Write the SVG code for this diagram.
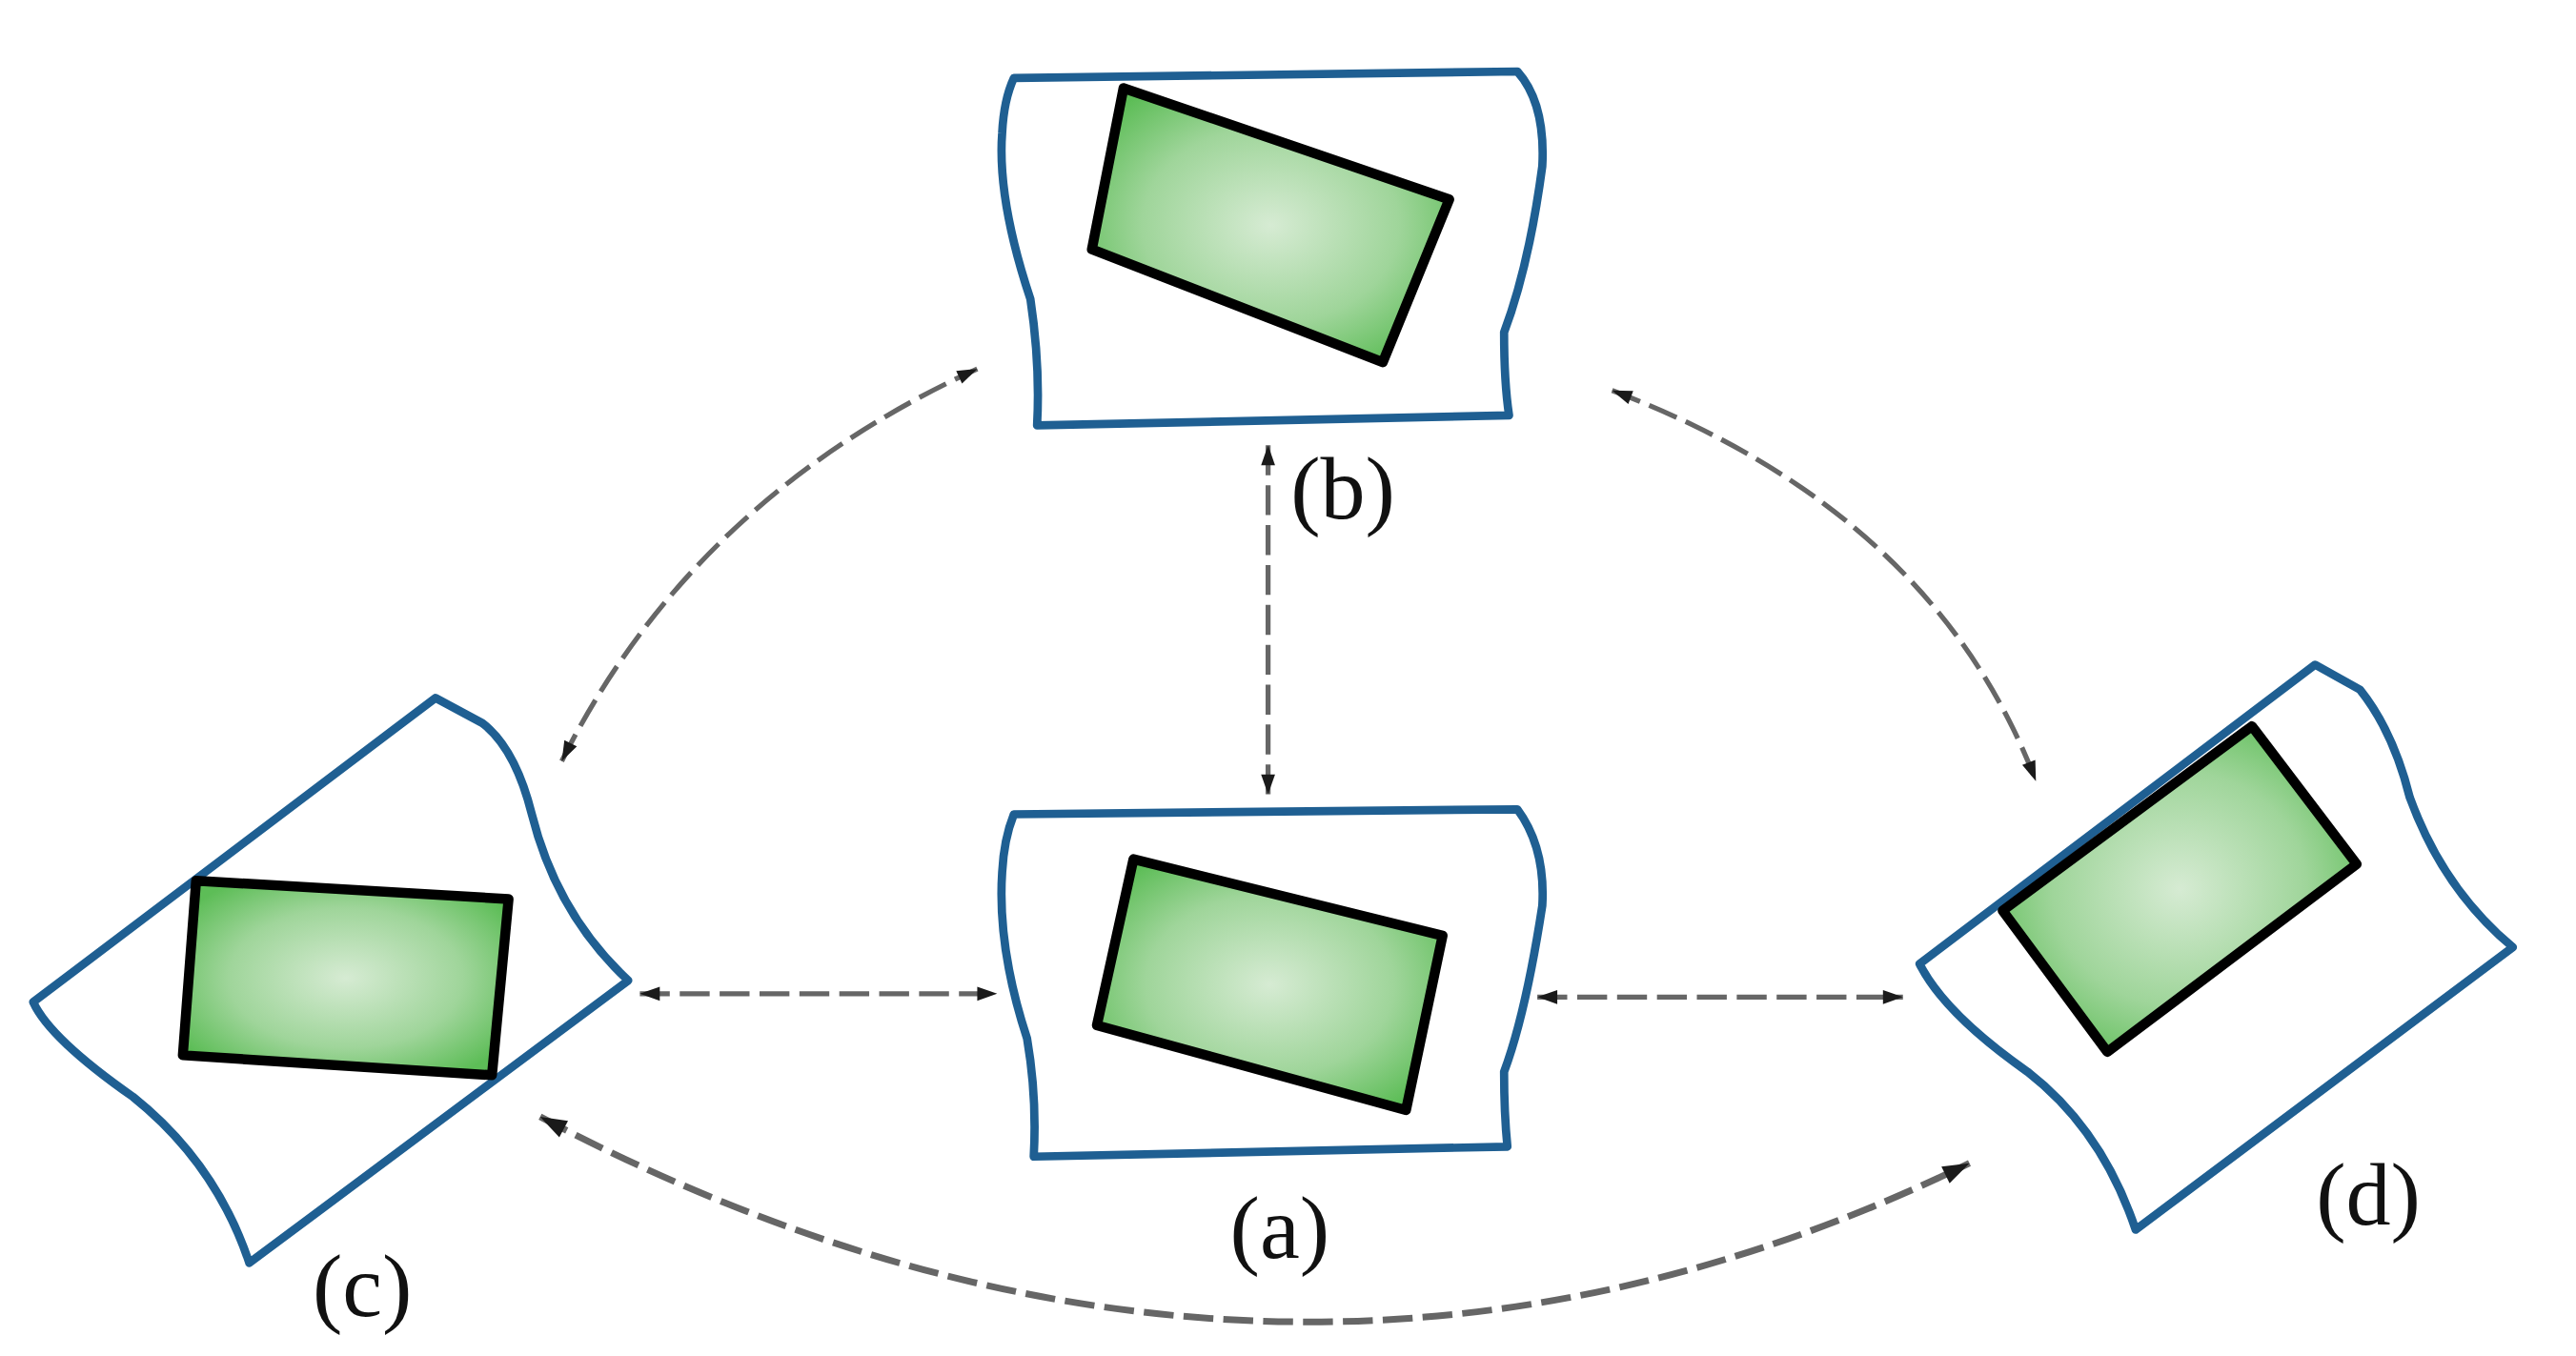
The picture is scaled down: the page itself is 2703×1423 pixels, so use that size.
<svg xmlns="http://www.w3.org/2000/svg" width="2703" height="1423" viewBox="0 0 2703 1423">
<defs>
<radialGradient id="g" cx="50%" cy="50%" r="60%">
<stop offset="0" stop-color="#d6ebd3"/><stop offset="0.6" stop-color="#9fd59a"/><stop offset="1" stop-color="#5dbd57"/>
</radialGradient>
<marker id="ar" viewBox="0 0 10 10" refX="10" refY="5" markerWidth="9" markerHeight="4" markerUnits="strokeWidth" orient="auto-start-reverse">
<path d="M0,1.5 L10,5 L0,8.5 z" fill="#1a1a1a"/>
</marker>
<style>
.o{fill:#fff;stroke:#1f5f92;stroke-width:5;stroke-linejoin:round}
.i{fill:url(#g);stroke:#000;stroke-width:6;stroke-linejoin:round}
.c{fill:none;stroke:#666;stroke-width:3;stroke-dasharray:18 6;marker-start:url(#ar);marker-end:url(#ar)}
.t{font-family:"Liberation Serif",serif;font-size:54px;fill:#111;text-anchor:middle}
</style>
</defs>
<rect width="2703" height="1423" fill="#fff"/>
<g transform="scale(1.7439)">
<g id="connectors">
<path class="c" d="M385,598 L600,598"/>
<path class="c" d="M925,600 L1145,600"/>
<path class="c" d="M763,268 L763,478"/>
<path class="c" d="M338,458 Q417,300 588,222"/>
<path class="c" d="M970,235 Q1163,308 1225,470"/>
<path class="c" style="stroke-width:4" d="M325,672 Q765,904 1185,700"/>
</g>
<g id="b">
<path class="o" d="M610,47 L913,43 Q930,62 928,100 Q920,160 905,200 Q905,230 908,250 L624,256 Q626,220 620,180 Q600,120 603,80 Q604,60 610,47 Z"/>
<path class="i" d="M676,53 L872,120 L832,218 L657,150 Z"/>
<text class="t" x="808" y="312">(b)</text>
</g>
<g id="a">
<path class="o" d="M610,490 L913,487 Q930,510 928,545 Q918,610 905,645 Q905,670 907,690 L622,696 Q624,660 618,625 Q600,570 603,525 Q604,505 610,490 Z"/>
<path class="i" d="M682,517 L868,563 L846,668 L660,617 Z"/>
<text class="t" x="770" y="757">(a)</text>
</g>
<g id="c">
<path class="o" d="M20,603 L262,420 L290,435 Q310,450 320,490 Q335,550 378,590 L150,760 Q130,700 80,660 Q30,625 20,603 Z"/>
<path class="i" d="M118,530 L306,541 L296,647 L110,635 Z"/>
<text class="t" x="218" y="792">(c)</text>
</g>
<g id="d">
<path class="o" d="M1155,580 L1393,400 L1420,415 Q1440,440 1450,480 Q1470,535 1512,570 L1285,740 Q1265,680 1220,645 Q1170,610 1155,580 Z"/>
<path class="i" d="M1205,548 L1355,437 L1418,520 L1268,633 Z"/>
<text class="t" x="1425" y="737">(d)</text>
</g>
</g>
</svg>
